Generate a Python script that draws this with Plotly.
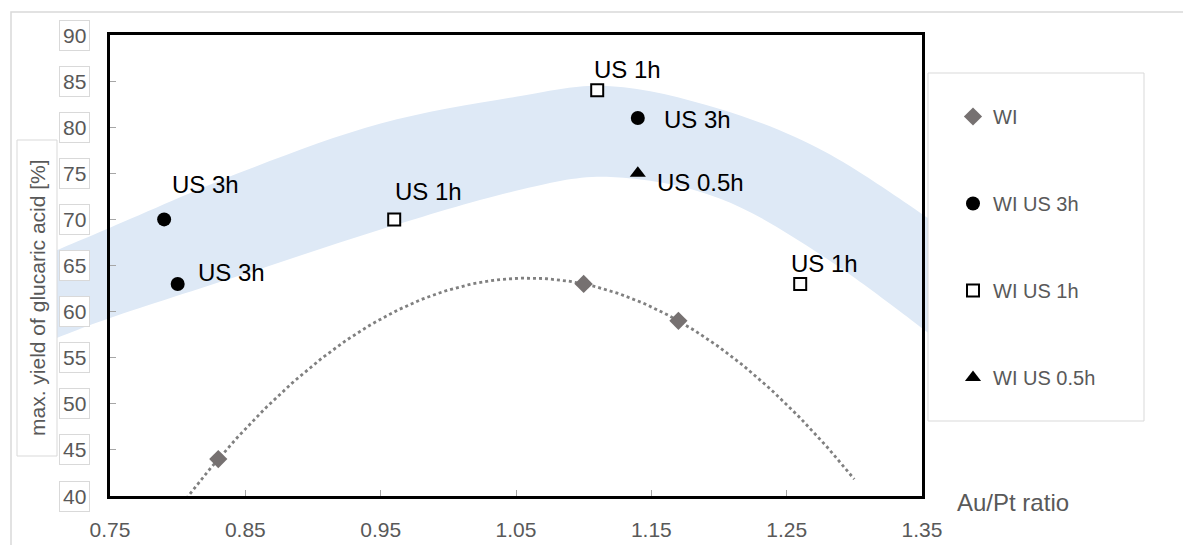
import numpy as np
import plotly.graph_objects as go

# ---------------- data ----------------
wi_x = [0.83, 1.10, 1.17]
wi_y = [44, 63, 59]

us3_x = [0.79, 0.80, 1.14]
us3_y = [70, 63, 81]
us3_labels = ["US 3h", "US 3h", "US 3h"]

us1_x = [0.96, 1.11, 1.26]
us1_y = [70, 84, 63]
us1_labels = ["US 1h", "US 1h", "US 1h"]

us05_x = [1.14]
us05_y = [75]
us05_labels = ["US 0.5h"]

series_names = ["WI", "WI US 3h", "WI US 1h", "WI US 0.5h"]

x_ticks = [0.75, 0.85, 0.95, 1.05, 1.15, 1.25, 1.35]
x_tick_labels = ["0.75", "0.85", "0.95", "1.05", "1.15", "1.25", "1.35"]
y_ticks = [40, 45, 50, 55, 60, 65, 70, 75, 80, 85, 90]
y_tick_labels = ["40", "45", "50", "55", "60", "65", "70", "75", "80", "85", "90"]

# highlighted band (hand-drawn in the original), edges in data units
band_upper_x = [0.70, 0.75, 0.85, 0.95, 1.05, 1.12, 1.20, 1.28, 1.37]
band_upper_y = [66.0, 69.1, 75.3, 80.4, 83.3, 84.45, 82.0, 77.2, 68.6]
band_lower_x = [0.70, 0.75, 0.85, 0.95, 1.05, 1.12, 1.20, 1.28, 1.37]
band_lower_y = [56.5, 59.3, 64.1, 68.9, 73.1, 74.6, 72.3, 65.7, 56.0]

# ---------------- layout geometry (screen px; page body has an 8px margin) ----------------
OFF = 8
W, H = 1175, 537
FRAME_L, FRAME_R, FRAME_T, FRAME_B = 110, 922, 35, 496
ML = FRAME_L - OFF
MT = FRAME_T - OFF
MR = W - (FRAME_R - OFF)
MB = H - (FRAME_B - OFF)
PW, PH = W - ML - MR, H - MT - MB
XR = [0.75, 1.35]
YR = [40, 90]

FONT = "Liberation Sans, Arial, sans-serif"
GRAY_TXT = "#595959"
BOX = "#d9d9d9"


def px2paper_x(px):
    return (px - OFF - ML) / PW


def py2paper_y(py):
    return (H - MB - (py - OFF)) / PH


def d2paper_x(x):
    return (x - XR[0]) / (XR[1] - XR[0])


def d2paper_y(y):
    return (y - YR[0]) / (YR[1] - YR[0])


def smooth_path(pts):
    """Catmull-Rom spline through pts -> SVG cubic segments."""
    s = ""
    n = len(pts)
    for i in range(n - 1):
        p0 = pts[i - 1] if i > 0 else pts[i]
        p1 = pts[i]
        p2 = pts[i + 1]
        p3 = pts[i + 2] if i + 2 < n else pts[i + 1]
        c1 = (p1[0] + (p2[0] - p0[0]) / 6, p1[1] + (p2[1] - p0[1]) / 6)
        c2 = (p2[0] - (p3[0] - p1[0]) / 6, p2[1] - (p3[1] - p1[1]) / 6)
        s += f" C {c1[0]:.5f},{c1[1]:.5f} {c2[0]:.5f},{c2[1]:.5f} {p2[0]:.5f},{p2[1]:.5f}"
    return s


up = [(d2paper_x(x), d2paper_y(y)) for x, y in zip(band_upper_x, band_upper_y)]
lo = [(d2paper_x(x), d2paper_y(y)) for x, y in zip(band_lower_x, band_lower_y)][::-1]
band_path = f"M {up[0][0]:.5f},{up[0][1]:.5f}" + smooth_path(up)
band_path += f" L {lo[0][0]:.5f},{lo[0][1]:.5f}" + smooth_path(lo) + " Z"

fig = go.Figure()

# trendline (2nd order polynomial fit of WI)
coef = np.polyfit(wi_x, wi_y, 2)
tx = np.linspace(0.78, 1.30, 200)
ty = np.polyval(coef, tx)
fig.add_trace(go.Scatter(x=tx, y=ty, mode="lines", showlegend=False, hoverinfo="skip",
                         line=dict(color="#808080", width=2.8, dash="dot")))

fig.add_trace(go.Scatter(x=wi_x, y=wi_y, mode="markers", name=series_names[0], legendgroup="a",
                         marker=dict(symbol="diamond", size=14, color="#767171")))
fig.add_trace(go.Scatter(x=us3_x, y=us3_y, mode="markers", name=series_names[1], legendgroup="b",
                         marker=dict(symbol="circle", size=14, color="black")))
fig.add_trace(go.Scatter(x=us1_x, y=us1_y, mode="markers", name=series_names[2], legendgroup="c",
                         marker=dict(symbol="square", size=12, color="white",
                                     line=dict(color="black", width=2))))
fig.add_trace(go.Scatter(x=us05_x, y=us05_y, mode="markers", name=series_names[3], legendgroup="d",
                         marker=dict(symbol="triangle-up", size=14, color="black")))

annotations = []
# data labels (offsets in px: right, down)
label_offsets = {
    "us3": [(41, -35), (54, -11), (60, 2)],
    "us1": [(34, -28), (30, -21), (24, -20)],
    "us05": [(63, 9)],
}
for key, xs, ys, labs in [("us3", us3_x, us3_y, us3_labels),
                          ("us1", us1_x, us1_y, us1_labels),
                          ("us05", us05_x, us05_y, us05_labels)]:
    for (x, y, t, (dx, dy)) in zip(xs, ys, labs, label_offsets[key]):
        annotations.append(dict(x=x, y=y, xref="x", yref="y", text=t, showarrow=False,
                                xshift=dx, yshift=-dy, xanchor="center", yanchor="middle",
                                font=dict(family=FONT, size=24, color="black")))

# boxed y tick labels
for v, t in zip(y_ticks, y_tick_labels):
    annotations.append(dict(x=px2paper_x(74.5), y=v, xref="paper", yref="y", text=t,
                            showarrow=False, xanchor="center", yanchor="middle",
                            font=dict(family=FONT, size=21, color=GRAY_TXT),
                            bgcolor="white", bordercolor=BOX, borderwidth=1, borderpad=3))

# y axis title (box drawn as a shape)
annotations.append(dict(x=px2paper_x(37), y=py2paper_y(298), xref="paper", yref="paper",
                        text="max. yield of glucaric acid [%]", textangle=-90, showarrow=False,
                        xanchor="center", yanchor="middle",
                        font=dict(family=FONT, size=21, color=GRAY_TXT)))
# x axis title
annotations.append(dict(x=px2paper_x(1013), y=py2paper_y(502), xref="paper", yref="paper",
                        text="Au/Pt ratio", showarrow=False, xanchor="center", yanchor="middle",
                        font=dict(family=FONT, size=24, color=GRAY_TXT)))

shapes = [
    # outer chart border (top/left visible)
    dict(type="rect", xref="paper", yref="paper", x0=px2paper_x(11), y0=py2paper_y(12),
         x1=px2paper_x(1400), y1=py2paper_y(700), line=dict(color=BOX, width=1.5),
         fillcolor="rgba(0,0,0,0)", layer="below"),
    # band
    dict(type="path", xref="paper", yref="paper", path=band_path,
         fillcolor="rgb(222,233,246)", line=dict(width=0), layer="below"),
    # legend box
    dict(type="rect", xref="paper", yref="paper", x0=px2paper_x(928), y0=py2paper_y(73),
         x1=px2paper_x(1144), y1=py2paper_y(421), line=dict(color=BOX, width=1),
         fillcolor="white", layer="above"),
    # y title box
    dict(type="rect", xref="paper", yref="paper", x0=px2paper_x(17), y0=py2paper_y(140),
         x1=px2paper_x(57), y1=py2paper_y(456), line=dict(color=BOX, width=1),
         fillcolor="white", layer="above"),
]

fig.update_layout(
    width=W, height=H,
    margin=dict(l=ML, r=MR, t=MT, b=MB, pad=0, autoexpand=False),
    paper_bgcolor="white", plot_bgcolor="rgba(0,0,0,0)",
    showlegend=True,
    legend=dict(x=px2paper_x(953), y=py2paper_y(97), xanchor="left", yanchor="top",
                bgcolor="rgba(0,0,0,0)", borderwidth=0, traceorder="grouped",
                tracegroupgap=58, font=dict(family=FONT, size=20, color=GRAY_TXT)),
    xaxis=dict(range=XR, tickvals=x_ticks, ticktext=x_tick_labels, showgrid=False, zeroline=False,
               showline=True, linecolor="black", linewidth=3, mirror=True, automargin=False,
               ticks="inside", ticklen=6, tickcolor="#a6a6a6", tickwidth=1,
               ticklabelstandoff=13,
               tickfont=dict(family=FONT, size=21, color=GRAY_TXT)),
    yaxis=dict(range=YR, tickvals=y_ticks, showticklabels=False, showgrid=False, zeroline=False,
               showline=True, linecolor="black", linewidth=3, mirror=True, automargin=False,
               ticks="inside", ticklen=6, tickcolor="#a6a6a6", tickwidth=1),
    annotations=annotations,
    shapes=shapes,
)

fig.write_html("out.html")
